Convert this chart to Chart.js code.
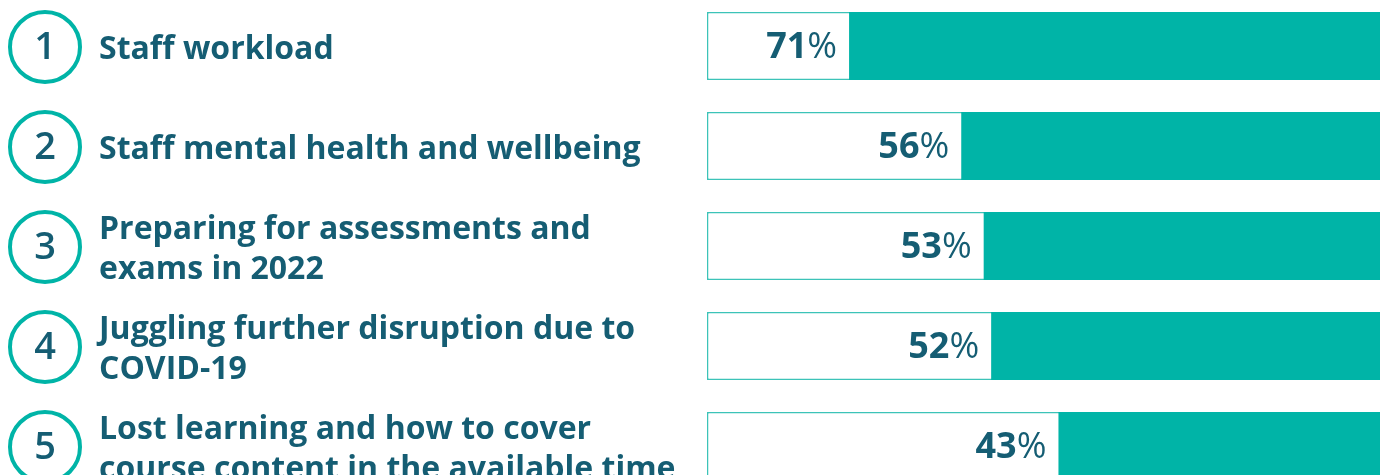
<!DOCTYPE html>
<html>
<head>
<meta charset="utf-8">
<script src="https://cdn.jsdelivr.net/npm/chart.js@4.4.1/dist/chart.umd.min.js"></script>
<style>
  html, body { margin: 0; padding: 0; background: #fff; overflow: hidden; }
  #wrap { position: absolute; left: 0; top: -4px; width: 1383px; height: 500px; }
</style>
</head>
<body>
<div id="wrap"><canvas id="chart"></canvas></div>
<script>
// Survey: biggest challenges (share of respondents)
const ranks = ['1', '2', '3', '4', '5']
const categories = [
    ['Staff workload'],
    ['Staff mental health and wellbeing'],
    ['Preparing for assessments and', 'exams in 2022'],
    ['Juggling further disruption due to', 'COVID-19'],
    ['Lost learning and how to cover', 'course content in the available time']
]
const values = [71, 56, 53, 52, 43]
const scaleMax = 90

const teal = '#00b4a7'
const ink = '#155d73'
const fontFamily = '"Open Sans", sans-serif'

// Draws the rank circles, category labels and value labels
const labelsPlugin = {
    id: 'rowLabels',
    afterDatasetsDraw(chart) {
        const ctx = chart.ctx
        const yScale = chart.scales.y
        const valueMeta = chart.getDatasetMeta(1)

        ctx.save()
        categories.forEach((lines, i) => {
            const yc = yScale.getPixelForValue(i)

            // rank circle
            ctx.beginPath()
            ctx.arc(45, yc + 1, 35, 0, Math.PI * 2)
            ctx.lineWidth = 4
            ctx.strokeStyle = teal
            ctx.stroke()

            ctx.fillStyle = ink
            ctx.textAlign = 'center'
            ctx.textBaseline = 'middle'
            ctx.font = '600 38px ' + fontFamily
            ctx.fillText(ranks[i], 45, yc + 2)

            // category text
            ctx.textAlign = 'left'
            ctx.font = '700 32px ' + fontFamily
            const lineHeight = 40
            const startY = yc + 4 - (lines.length - 1) * lineHeight / 2
            lines.forEach((line, j) => {
                ctx.fillText(line, 99, startY + j * lineHeight)
            })

            // value label, right aligned against the fill
            const bar = valueMeta.data[i]
            const right = bar.x - 12
            ctx.font = '400 36px ' + fontFamily
            const pctW = ctx.measureText('%').width
            ctx.textAlign = 'right'
            ctx.fillText('%', right, yc + 2)
            ctx.font = '700 36px ' + fontFamily
            ctx.fillText(String(values[i]), right - pctW, yc + 2)
        })
        ctx.restore()
    }
}

new Chart(document.getElementById('chart').getContext('2d'), {
    type: 'bar',
    data: {
        labels: categories.map(l => l.join(' ')),
        datasets: [
            {
                data: values.map(() => scaleMax),
                backgroundColor: '#ffffff',
                borderColor: '#3cc3b8',
                borderWidth: 1.5,
                borderSkipped: false,
                order: 2
            },
            {
                data: values,
                backgroundColor: teal,
                borderWidth: 0,
                order: 1
            }
        ]
    },
    options: {
        indexAxis: 'y',
        responsive: true,
        maintainAspectRatio: false,
        animation: false,
        layout: { padding: { left: 707, right: 3, top: 0, bottom: 0 } },
        datasets: {
            bar: { grouped: false, barPercentage: 0.68, categoryPercentage: 1 }
        },
        scales: {
            x: { min: 0, max: scaleMax, reverse: true, display: false },
            y: { display: false }
        },
        plugins: {
            legend: { display: false },
            tooltip: { enabled: false }
        }
    },
    plugins: [labelsPlugin]
})
</script>
</body>
</html>
